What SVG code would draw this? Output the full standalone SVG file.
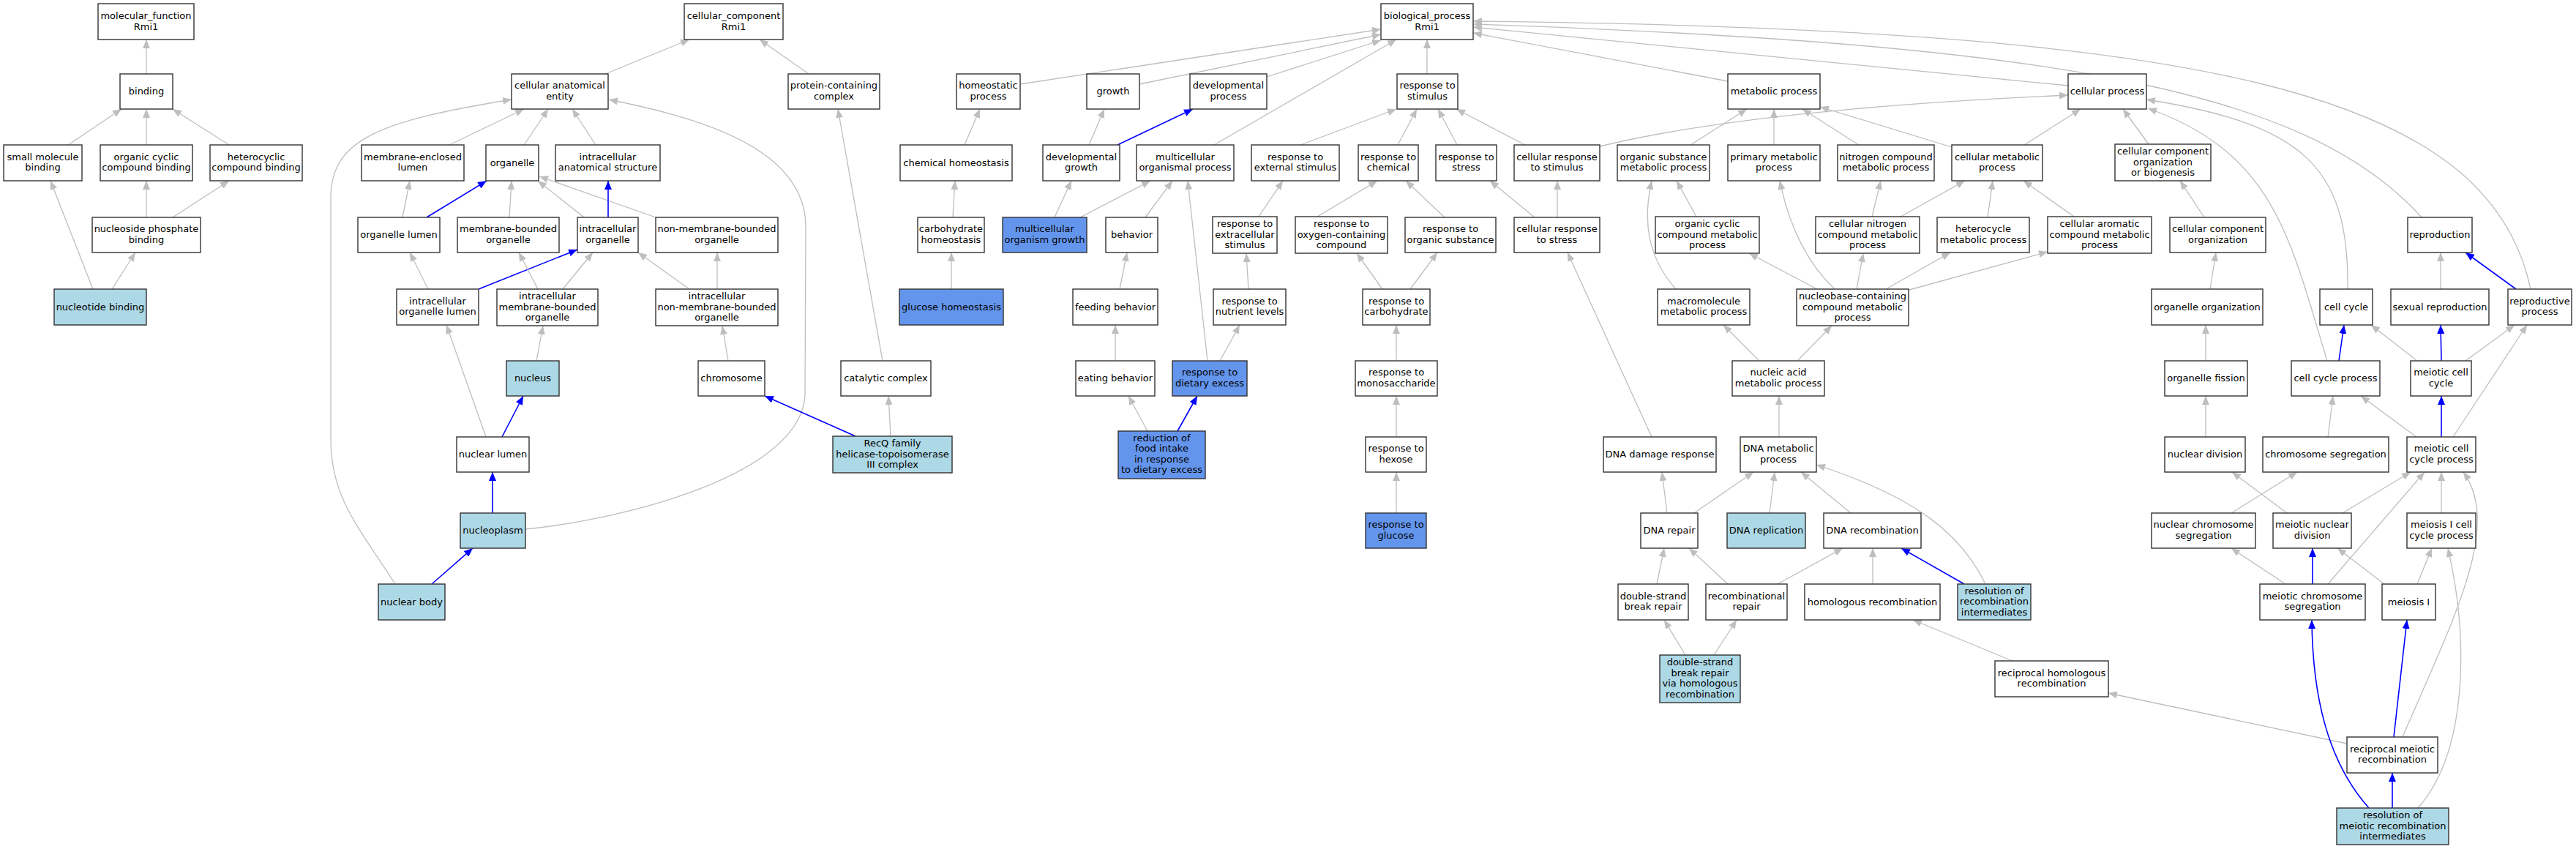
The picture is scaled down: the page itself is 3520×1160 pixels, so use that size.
<svg xmlns="http://www.w3.org/2000/svg" width="3520" height="1160" viewBox="0 0 3520 1160">
<defs>
<marker id="ag" markerUnits="userSpaceOnUse" markerWidth="12" markerHeight="10" viewBox="0 0 12 10" refX="12" refY="5" orient="auto"><path d="M0,0 L12,5 L0,10 z" fill="#bebebe"/></marker>
<marker id="ab" markerUnits="userSpaceOnUse" markerWidth="12" markerHeight="10" viewBox="0 0 12 10" refX="12" refY="5" orient="auto"><path d="M0,0 L12,5 L0,10 z" fill="#0000ff"/></marker>
</defs>
<style>
rect{fill:#ffffff;stroke:#333333;stroke-width:1.4}
rect.lb{fill:#add8e6}
rect.cb{fill:#6495ed}
text{font-family:"DejaVu Sans","Liberation Sans",sans-serif;font-size:13px;text-anchor:middle;fill:#000}
#edges path{fill:none;stroke:#bebebe;stroke-width:1.3;marker-end:url(#ag)}
#edges path.b{stroke:#0000ff;stroke-width:1.6;marker-end:url(#ab)}
</style>
<rect x="0" y="0" width="3520" height="1160" style="fill:#fff;stroke:none"/>
<g id="edges">
<path d="M200,101 L200,54"/>
<path d="M93,198 L166,149"/>
<path d="M200,198 L200,149"/>
<path d="M313,198 L236,149"/>
<path d="M200,297 L200,247"/>
<path d="M236,297 L313,247"/>
<path d="M127,395 L69,247"/>
<path d="M153,395 L185,345"/>
<path d="M827,101 L942,54"/>
<path d="M1105,101 L1038,54"/>
<path d="M614,198 L716,149"/>
<path d="M716,198 L749,149"/>
<path d="M814,198 L782,149"/>
<path d="M540,798 C490,720 452,680 452,600 L452,270 C452,190 520,165 699,136"/>
<path d="M718,723 C850,710 1094,650 1100,540 L1101,310 C1101,200 950,160 832,136"/>
<path d="M550,297 L560,247"/>
<path class="b" d="M583,297 L665,247"/>
<path d="M696,297 L699,247"/>
<path d="M798,297 L735,247"/>
<path d="M896,297 L737,241"/>
<path class="b" d="M831,297 L831,247"/>
<path d="M585,395 L560,345"/>
<path class="b" d="M654,395 L789,341"/>
<path d="M735,395 L709,345"/>
<path d="M769,395 L810,345"/>
<path d="M942,395 L872,345"/>
<path d="M980,395 L980,345"/>
<path d="M733,493 L742,445"/>
<path d="M995,493 L987,445"/>
<path d="M1206,493 L1145,149"/>
<path d="M664,597 L610,444"/>
<path class="b" d="M686,597 L715,541"/>
<path class="b" d="M1169,596 L1045,541"/>
<path d="M1217,596 L1214,541"/>
<path class="b" d="M673,701 L673,645"/>
<path class="b" d="M590,798 L646,749"/>
<path d="M1394,115 L1887,40"/>
<path d="M1557,115 L1887,47"/>
<path d="M1731,105 L1887,55"/>
<path d="M1659,198 L1908,54"/>
<path d="M1318,198 L1339,149"/>
<path d="M1302,297 L1305,247"/>
<path d="M1300,395 L1300,345"/>
<path d="M1488,198 L1509,149"/>
<path class="b" d="M1527,198 L1630,149"/>
<path d="M1441,297 L1464,247"/>
<path d="M1476,297 L1572,247"/>
<path d="M1565,297 L1602,247"/>
<path d="M1650,493 L1623,247"/>
<path d="M1530,395 L1540,345"/>
<path d="M1524,493 L1524,444"/>
<path d="M1568,589 L1542,541"/>
<path class="b" d="M1609,589 L1636,541"/>
<path d="M1667,493 L1694,444"/>
<path d="M1706,395 L1703,346"/>
<path d="M1720,296 L1753,247"/>
<path d="M1777,198 L1908,149"/>
<path d="M1910,198 L1936,149"/>
<path d="M1991,198 L1965,149"/>
<path d="M2084,198 L1990,149"/>
<path d="M1950,101 L1950,54"/>
<path d="M1800,296 L1882,247"/>
<path d="M1974,297 L1921,247"/>
<path d="M2097,297 L2036,247"/>
<path d="M2128,297 L2128,247"/>
<path d="M1889,395 L1854,346"/>
<path d="M1927,395 L1964,345"/>
<path d="M1908,493 L1908,444"/>
<path d="M1908,597 L1908,541"/>
<path d="M1908,701 L1908,645"/>
<path d="M2257,597 L2142,345"/>
<path d="M2361,111 L2013,45"/>
<path d="M2310,198 L2387,149"/>
<path d="M2424,198 L2424,149"/>
<path d="M2540,198 L2463,149"/>
<path d="M2667,201 L2487,146"/>
<path d="M2766,198 L2843,149"/>
<path d="M2936,197 L2901,149"/>
<path d="M2186,200 C2350,160 2600,140 2826,130"/>
<path d="M2318,296 L2291,247"/>
<path d="M2290,395 C2250,350 2245,300 2257,247"/>
<path d="M2507,395 C2470,360 2445,310 2432,247"/>
<path d="M2558,296 L2570,247"/>
<path d="M2597,296 L2685,247"/>
<path d="M2716,297 L2723,247"/>
<path d="M2834,296 L2765,247"/>
<path d="M2483,395 L2390,346"/>
<path d="M2537,395 L2546,346"/>
<path d="M2577,395 L2665,345"/>
<path d="M2609,396 L2798,344"/>
<path d="M2404,493 L2355,444"/>
<path d="M2456,493 L2503,445"/>
<path d="M2431,597 L2431,541"/>
<path d="M2278,701 L2271,645"/>
<path d="M2315,701 L2396,645"/>
<path d="M2418,701 L2425,645"/>
<path d="M2529,701 L2461,645"/>
<path d="M2713,798 C2680,730 2620,680 2482,635"/>
<path class="b" d="M2684,798 L2598,749"/>
<path d="M2264,798 L2274,749"/>
<path d="M2361,798 L2308,749"/>
<path d="M2429,798 L2518,749"/>
<path d="M2559,798 L2559,749"/>
<path d="M2303,895 L2274,847"/>
<path d="M2342,895 L2373,847"/>
<path d="M2750,903 L2614,847"/>
<path d="M3207,1016 L2881,947"/>
<path d="M2826,117 L2013,37"/>
<path d="M3309,297 C3150,120 2800,60 2013,33"/>
<path d="M3458,395 C3400,120 3000,40 2013,29"/>
<path d="M3208,395 C3210,230 3150,170 2933,136"/>
<path d="M3180,493 C3130,330 3110,210 2935,148"/>
<path d="M3012,297 L2979,247"/>
<path d="M3020,395 L3028,345"/>
<path d="M3014,493 L3014,444"/>
<path d="M3014,597 L3014,541"/>
<path class="b" d="M3196,493 L3203,444"/>
<path d="M3303,493 L3240,444"/>
<path class="b" d="M3336,493 L3335,444"/>
<path d="M3369,493 L3436,444"/>
<path d="M3335,395 L3335,345"/>
<path class="b" d="M3438,395 L3369,345"/>
<path d="M3302,597 L3226,541"/>
<path class="b" d="M3336,597 L3336,541"/>
<path d="M3352,597 L3453,444"/>
<path d="M3181,597 L3188,541"/>
<path d="M3049,701 L3139,645"/>
<path d="M3125,701 L3050,645"/>
<path d="M3201,701 L3294,645"/>
<path d="M3336,701 L3336,645"/>
<path d="M3123,798 L3049,749"/>
<path class="b" d="M3160,798 L3160,749"/>
<path d="M3181,798 L3313,645"/>
<path d="M3258,798 L3194,749"/>
<path d="M3303,798 L3323,749"/>
<path class="b" d="M3271,1007 L3289,847"/>
<path d="M3283,1007 C3350,850 3420,720 3366,645"/>
<path class="b" d="M3269,1104 L3269,1056"/>
<path class="b" d="M3237,1104 C3180,1040 3160,950 3159,847"/>
<path d="M3304,1104 C3370,1030 3375,880 3345,749"/>
</g>
<g id="n_mf"><rect x="134" y="5" width="131" height="49"/><text><tspan x="199.5" y="26">molecular_function</tspan><tspan x="199.5" y="40.5">Rmi1</tspan></text></g>
<g id="n_cc"><rect x="935" y="5" width="135" height="49"/><text><tspan x="1002.5" y="26">cellular_component</tspan><tspan x="1002.5" y="40.5">Rmi1</tspan></text></g>
<g id="n_bp"><rect x="1887" y="5" width="126" height="49"/><text><tspan x="1950" y="26">biological_process</tspan><tspan x="1950" y="40.5">Rmi1</tspan></text></g>
<g id="n_binding"><rect x="164" y="101" width="72" height="48"/><text x="200" y="129">binding</text></g>
<g id="n_cae"><rect x="699" y="101" width="132" height="48"/><text><tspan x="765" y="121.4">cellular anatomical</tspan><tspan x="765" y="135.9">entity</tspan></text></g>
<g id="n_pcc"><rect x="1077" y="101" width="125" height="48"/><text><tspan x="1139.5" y="121.4">protein-containing</tspan><tspan x="1139.5" y="135.9">complex</tspan></text></g>
<g id="n_homeo"><rect x="1307" y="101" width="87" height="48"/><text><tspan x="1350.5" y="121.4">homeostatic</tspan><tspan x="1350.5" y="135.9">process</tspan></text></g>
<g id="n_growth"><rect x="1485" y="101" width="72" height="48"/><text x="1521" y="129">growth</text></g>
<g id="n_devproc"><rect x="1626" y="101" width="105" height="48"/><text><tspan x="1678.5" y="121.4">developmental</tspan><tspan x="1678.5" y="135.9">process</tspan></text></g>
<g id="n_stim"><rect x="1909" y="101" width="83" height="48"/><text><tspan x="1950.5" y="121.4">response to</tspan><tspan x="1950.5" y="135.9">stimulus</tspan></text></g>
<g id="n_metab"><rect x="2361" y="101" width="126" height="48"/><text x="2424" y="129">metabolic process</text></g>
<g id="n_cellproc"><rect x="2826" y="101" width="107" height="48"/><text x="2879.5" y="129">cellular process</text></g>
<g id="n_smb"><rect x="5" y="198" width="107" height="49"/><text><tspan x="58.5" y="218.9">small molecule</tspan><tspan x="58.5" y="233.4">binding</tspan></text></g>
<g id="n_ocb"><rect x="137" y="198" width="126" height="49"/><text><tspan x="200" y="218.9">organic cyclic</tspan><tspan x="200" y="233.4">compound binding</tspan></text></g>
<g id="n_hcb"><rect x="287" y="198" width="126" height="49"/><text><tspan x="350" y="218.9">heterocyclic</tspan><tspan x="350" y="233.4">compound binding</tspan></text></g>
<g id="n_mel"><rect x="494" y="198" width="140" height="49"/><text><tspan x="564" y="218.9">membrane-enclosed</tspan><tspan x="564" y="233.4">lumen</tspan></text></g>
<g id="n_organelle"><rect x="664" y="198" width="72" height="49"/><text x="700" y="226.5">organelle</text></g>
<g id="n_ias"><rect x="759" y="198" width="143" height="49"/><text><tspan x="830.5" y="218.9">intracellular</tspan><tspan x="830.5" y="233.4">anatomical structure</tspan></text></g>
<g id="n_chemhomeo"><rect x="1230" y="198" width="153" height="49"/><text x="1306.5" y="226.5">chemical homeostasis</text></g>
<g id="n_devgrowth"><rect x="1425" y="198" width="105" height="49"/><text><tspan x="1477.5" y="218.9">developmental</tspan><tspan x="1477.5" y="233.4">growth</tspan></text></g>
<g id="n_mop"><rect x="1553" y="198" width="133" height="49"/><text><tspan x="1619.5" y="218.9">multicellular</tspan><tspan x="1619.5" y="233.4">organismal process</tspan></text></g>
<g id="n_extstim"><rect x="1710" y="198" width="120" height="49"/><text><tspan x="1770" y="218.9">response to</tspan><tspan x="1770" y="233.4">external stimulus</tspan></text></g>
<g id="n_chem"><rect x="1856" y="198" width="82" height="49"/><text><tspan x="1897" y="218.9">response to</tspan><tspan x="1897" y="233.4">chemical</tspan></text></g>
<g id="n_stress"><rect x="1962" y="198" width="83" height="49"/><text><tspan x="2003.5" y="218.9">response to</tspan><tspan x="2003.5" y="233.4">stress</tspan></text></g>
<g id="n_crstim"><rect x="2069" y="198" width="117" height="49"/><text><tspan x="2127.5" y="218.9">cellular response</tspan><tspan x="2127.5" y="233.4">to stimulus</tspan></text></g>
<g id="n_osmp"><rect x="2210" y="198" width="126" height="49"/><text><tspan x="2273" y="218.9">organic substance</tspan><tspan x="2273" y="233.4">metabolic process</tspan></text></g>
<g id="n_pmp"><rect x="2361" y="198" width="126" height="49"/><text><tspan x="2424" y="218.9">primary metabolic</tspan><tspan x="2424" y="233.4">process</tspan></text></g>
<g id="n_ncmp"><rect x="2511" y="198" width="132" height="49"/><text><tspan x="2577" y="218.9">nitrogen compound</tspan><tspan x="2577" y="233.4">metabolic process</tspan></text></g>
<g id="n_cmp"><rect x="2667" y="198" width="124" height="49"/><text><tspan x="2729" y="218.9">cellular metabolic</tspan><tspan x="2729" y="233.4">process</tspan></text></g>
<g id="n_ccob"><rect x="2890" y="197" width="131" height="50"/><text><tspan x="2955.5" y="211.1">cellular component</tspan><tspan x="2955.5" y="225.6">organization</tspan><tspan x="2955.5" y="240.1">or biogenesis</tspan></text></g>
<g id="n_npb"><rect x="126" y="297" width="148" height="48"/><text><tspan x="200" y="317.4">nucleoside phosphate</tspan><tspan x="200" y="331.9">binding</tspan></text></g>
<g id="n_ol"><rect x="489" y="297" width="112" height="48"/><text x="545" y="325">organelle lumen</text></g>
<g id="n_mbo"><rect x="625" y="297" width="139" height="48"/><text><tspan x="694.5" y="317.4">membrane-bounded</tspan><tspan x="694.5" y="331.9">organelle</tspan></text></g>
<g id="n_io"><rect x="789" y="297" width="83" height="48"/><text><tspan x="830.5" y="317.4">intracellular</tspan><tspan x="830.5" y="331.9">organelle</tspan></text></g>
<g id="n_nmbo"><rect x="896" y="297" width="167" height="48"/><text><tspan x="979.5" y="317.4">non-membrane-bounded</tspan><tspan x="979.5" y="331.9">organelle</tspan></text></g>
<g id="n_carbhomeo"><rect x="1254" y="297" width="91" height="48"/><text><tspan x="1299.5" y="317.4">carbohydrate</tspan><tspan x="1299.5" y="331.9">homeostasis</tspan></text></g>
<g id="n_mog"><rect class="cb" x="1370" y="297" width="115" height="48"/><text><tspan x="1427.5" y="317.4">multicellular</tspan><tspan x="1427.5" y="331.9">organism growth</tspan></text></g>
<g id="n_behavior"><rect x="1511" y="297" width="71" height="48"/><text x="1546.5" y="325">behavior</text></g>
<g id="n_extracell"><rect x="1657" y="296" width="88" height="50"/><text><tspan x="1701" y="310.1">response to</tspan><tspan x="1701" y="324.6">extracellular</tspan><tspan x="1701" y="339.1">stimulus</tspan></text></g>
<g id="n_oxy"><rect x="1770" y="296" width="126" height="50"/><text><tspan x="1833" y="310.1">response to</tspan><tspan x="1833" y="324.6">oxygen-containing</tspan><tspan x="1833" y="339.1">compound</tspan></text></g>
<g id="n_orgsub"><rect x="1920" y="297" width="124" height="48"/><text><tspan x="1982" y="317.4">response to</tspan><tspan x="1982" y="331.9">organic substance</tspan></text></g>
<g id="n_crstress"><rect x="2069" y="297" width="117" height="48"/><text><tspan x="2127.5" y="317.4">cellular response</tspan><tspan x="2127.5" y="331.9">to stress</tspan></text></g>
<g id="n_occmp"><rect x="2262" y="296" width="142" height="50"/><text><tspan x="2333" y="310.1">organic cyclic</tspan><tspan x="2333" y="324.6">compound metabolic</tspan><tspan x="2333" y="339.1">process</tspan></text></g>
<g id="n_cncmp"><rect x="2481" y="296" width="142" height="50"/><text><tspan x="2552" y="310.1">cellular nitrogen</tspan><tspan x="2552" y="324.6">compound metabolic</tspan><tspan x="2552" y="339.1">process</tspan></text></g>
<g id="n_hmp"><rect x="2647" y="297" width="126" height="48"/><text><tspan x="2710" y="317.4">heterocycle</tspan><tspan x="2710" y="331.9">metabolic process</tspan></text></g>
<g id="n_cacmp"><rect x="2798" y="296" width="142" height="50"/><text><tspan x="2869" y="310.1">cellular aromatic</tspan><tspan x="2869" y="324.6">compound metabolic</tspan><tspan x="2869" y="339.1">process</tspan></text></g>
<g id="n_cco"><rect x="2965" y="297" width="131" height="48"/><text><tspan x="3030.5" y="317.4">cellular component</tspan><tspan x="3030.5" y="331.9">organization</tspan></text></g>
<g id="n_repro"><rect x="3290" y="297" width="88" height="48"/><text x="3334" y="325">reproduction</text></g>
<g id="n_nb"><rect class="lb" x="74" y="395" width="126" height="49"/><text x="137" y="423.5">nucleotide binding</text></g>
<g id="n_iol"><rect x="542" y="395" width="112" height="49"/><text><tspan x="598" y="415.9">intracellular</tspan><tspan x="598" y="430.4">organelle lumen</tspan></text></g>
<g id="n_imbo"><rect x="679" y="395" width="138" height="50"/><text><tspan x="748" y="409.1">intracellular</tspan><tspan x="748" y="423.6">membrane-bounded</tspan><tspan x="748" y="438.1">organelle</tspan></text></g>
<g id="n_inmbo"><rect x="896" y="395" width="167" height="50"/><text><tspan x="979.5" y="409.1">intracellular</tspan><tspan x="979.5" y="423.6">non-membrane-bounded</tspan><tspan x="979.5" y="438.1">organelle</tspan></text></g>
<g id="n_gluchomeo"><rect class="cb" x="1229" y="395" width="142" height="49"/><text x="1300" y="423.5">glucose homeostasis</text></g>
<g id="n_feeding"><rect x="1466" y="395" width="116" height="49"/><text x="1524" y="423.5">feeding behavior</text></g>
<g id="n_nutrient"><rect x="1658" y="395" width="99" height="49"/><text><tspan x="1707.5" y="415.9">response to</tspan><tspan x="1707.5" y="430.4">nutrient levels</tspan></text></g>
<g id="n_carb"><rect x="1862" y="395" width="92" height="49"/><text><tspan x="1908" y="415.9">response to</tspan><tspan x="1908" y="430.4">carbohydrate</tspan></text></g>
<g id="n_macro"><rect x="2265" y="395" width="126" height="49"/><text><tspan x="2328" y="415.9">macromolecule</tspan><tspan x="2328" y="430.4">metabolic process</tspan></text></g>
<g id="n_nbcmp"><rect x="2455" y="395" width="153" height="50"/><text><tspan x="2531.5" y="409.1">nucleobase-containing</tspan><tspan x="2531.5" y="423.6">compound metabolic</tspan><tspan x="2531.5" y="438.1">process</tspan></text></g>
<g id="n_orgorg"><rect x="2940" y="395" width="152" height="49"/><text x="3016" y="423.5">organelle organization</text></g>
<g id="n_cellcycle"><rect x="3170" y="395" width="72" height="49"/><text x="3206" y="423.5">cell cycle</text></g>
<g id="n_sexrep"><rect x="3267" y="395" width="134" height="49"/><text x="3334" y="423.5">sexual reproduction</text></g>
<g id="n_repproc"><rect x="3427" y="395" width="87" height="49"/><text><tspan x="3470.5" y="415.9">reproductive</tspan><tspan x="3470.5" y="430.4">process</tspan></text></g>
<g id="n_nucleus"><rect class="lb" x="692" y="493" width="72" height="48"/><text x="728" y="521">nucleus</text></g>
<g id="n_chromosome"><rect x="954" y="493" width="91" height="48"/><text x="999.5" y="521">chromosome</text></g>
<g id="n_catalytic"><rect x="1149" y="493" width="123" height="48"/><text x="1210.5" y="521">catalytic complex</text></g>
<g id="n_eating"><rect x="1470" y="493" width="108" height="48"/><text x="1524" y="521">eating behavior</text></g>
<g id="n_rde"><rect class="cb" x="1602" y="493" width="102" height="48"/><text><tspan x="1653" y="513.4">response to</tspan><tspan x="1653" y="527.9">dietary excess</tspan></text></g>
<g id="n_mono"><rect x="1852" y="493" width="112" height="48"/><text><tspan x="1908" y="513.4">response to</tspan><tspan x="1908" y="527.9">monosaccharide</tspan></text></g>
<g id="n_namp"><rect x="2367" y="493" width="126" height="48"/><text><tspan x="2430" y="513.4">nucleic acid</tspan><tspan x="2430" y="527.9">metabolic process</tspan></text></g>
<g id="n_fission"><rect x="2958" y="493" width="113" height="48"/><text x="3014.5" y="521">organelle fission</text></g>
<g id="n_ccp"><rect x="3131" y="493" width="121" height="48"/><text x="3191.5" y="521">cell cycle process</text></g>
<g id="n_mcc"><rect x="3294" y="493" width="83" height="48"/><text><tspan x="3335.5" y="513.4">meiotic cell</tspan><tspan x="3335.5" y="527.9">cycle</tspan></text></g>
<g id="n_nuclumen"><rect x="624" y="597" width="99" height="48"/><text x="673.5" y="625">nuclear lumen</text></g>
<g id="n_recq"><rect class="lb" x="1138" y="596" width="163" height="50"/><text><tspan x="1219.5" y="610.1">RecQ family</tspan><tspan x="1219.5" y="624.6">helicase-topoisomerase</tspan><tspan x="1219.5" y="639.1">III complex</tspan></text></g>
<g id="n_reduction"><rect class="cb" x="1528" y="589" width="119" height="65"/><text><tspan x="1587.5" y="602.9">reduction of</tspan><tspan x="1587.5" y="617.4">food intake</tspan><tspan x="1587.5" y="631.9">in response</tspan><tspan x="1587.5" y="646.4">to dietary excess</tspan></text></g>
<g id="n_hexose"><rect x="1866" y="597" width="83" height="48"/><text><tspan x="1907.5" y="617.4">response to</tspan><tspan x="1907.5" y="631.9">hexose</tspan></text></g>
<g id="n_ddr"><rect x="2191" y="597" width="154" height="48"/><text x="2268" y="625">DNA damage response</text></g>
<g id="n_dnamp"><rect x="2378" y="597" width="104" height="48"/><text><tspan x="2430" y="617.4">DNA metabolic</tspan><tspan x="2430" y="631.9">process</tspan></text></g>
<g id="n_nucdiv"><rect x="2958" y="597" width="110" height="48"/><text x="3013" y="625">nuclear division</text></g>
<g id="n_chromseg"><rect x="3092" y="597" width="172" height="48"/><text x="3178" y="625">chromosome segregation</text></g>
<g id="n_mccp"><rect x="3289" y="597" width="94" height="48"/><text><tspan x="3336" y="617.4">meiotic cell</tspan><tspan x="3336" y="631.9">cycle process</tspan></text></g>
<g id="n_nucleoplasm"><rect class="lb" x="629" y="701" width="89" height="48"/><text x="673.5" y="729">nucleoplasm</text></g>
<g id="n_glucose"><rect class="cb" x="1866" y="701" width="83" height="48"/><text><tspan x="1907.5" y="721.4">response to</tspan><tspan x="1907.5" y="735.9">glucose</tspan></text></g>
<g id="n_dnarepair"><rect x="2242" y="701" width="78" height="48"/><text x="2281" y="729">DNA repair</text></g>
<g id="n_dnarepl"><rect class="lb" x="2360" y="701" width="107" height="48"/><text x="2413.5" y="729">DNA replication</text></g>
<g id="n_dnarecomb"><rect x="2492" y="701" width="133" height="48"/><text x="2558.5" y="729">DNA recombination</text></g>
<g id="n_ncs"><rect x="2940" y="701" width="142" height="48"/><text><tspan x="3011" y="721.4">nuclear chromosome</tspan><tspan x="3011" y="735.9">segregation</tspan></text></g>
<g id="n_mnd"><rect x="3106" y="701" width="107" height="48"/><text><tspan x="3159.5" y="721.4">meiotic nuclear</tspan><tspan x="3159.5" y="735.9">division</tspan></text></g>
<g id="n_m1ccp"><rect x="3289" y="701" width="94" height="48"/><text><tspan x="3336" y="721.4">meiosis I cell</tspan><tspan x="3336" y="735.9">cycle process</tspan></text></g>
<g id="n_nucbody"><rect class="lb" x="517" y="798" width="91" height="49"/><text x="562.5" y="826.5">nuclear body</text></g>
<g id="n_dsbr"><rect x="2211" y="798" width="96" height="49"/><text><tspan x="2259" y="818.9">double-strand</tspan><tspan x="2259" y="833.4">break repair</tspan></text></g>
<g id="n_recrep"><rect x="2331" y="798" width="111" height="49"/><text><tspan x="2386.5" y="818.9">recombinational</tspan><tspan x="2386.5" y="833.4">repair</tspan></text></g>
<g id="n_homrec"><rect x="2466" y="798" width="185" height="49"/><text x="2558.5" y="826.5">homologous recombination</text></g>
<g id="n_rri"><rect class="lb" x="2675" y="798" width="100" height="49"/><text><tspan x="2725" y="811.6">resolution of</tspan><tspan x="2725" y="826.1">recombination</tspan><tspan x="2725" y="840.6">intermediates</tspan></text></g>
<g id="n_mcs"><rect x="3088" y="798" width="144" height="49"/><text><tspan x="3160" y="818.9">meiotic chromosome</tspan><tspan x="3160" y="833.4">segregation</tspan></text></g>
<g id="n_meiosis1"><rect x="3255" y="798" width="73" height="49"/><text x="3291.5" y="826.5">meiosis I</text></g>
<g id="n_dsbhr"><rect class="lb" x="2268" y="895" width="110" height="65"/><text><tspan x="2323" y="909.4">double-strand</tspan><tspan x="2323" y="923.9">break repair</tspan><tspan x="2323" y="938.4">via homologous</tspan><tspan x="2323" y="952.9">recombination</tspan></text></g>
<g id="n_rhr"><rect x="2726" y="903" width="155" height="49"/><text><tspan x="2803.5" y="923.9">reciprocal homologous</tspan><tspan x="2803.5" y="938.4">recombination</tspan></text></g>
<g id="n_rmr"><rect x="3207" y="1007" width="124" height="49"/><text><tspan x="3269" y="1027.9">reciprocal meiotic</tspan><tspan x="3269" y="1042.4">recombination</tspan></text></g>
<g id="n_rmri"><rect class="lb" x="3193" y="1104" width="153" height="50"/><text><tspan x="3269.5" y="1118.1">resolution of</tspan><tspan x="3269.5" y="1132.6">meiotic recombination</tspan><tspan x="3269.5" y="1147.1">intermediates</tspan></text></g>
</svg>
